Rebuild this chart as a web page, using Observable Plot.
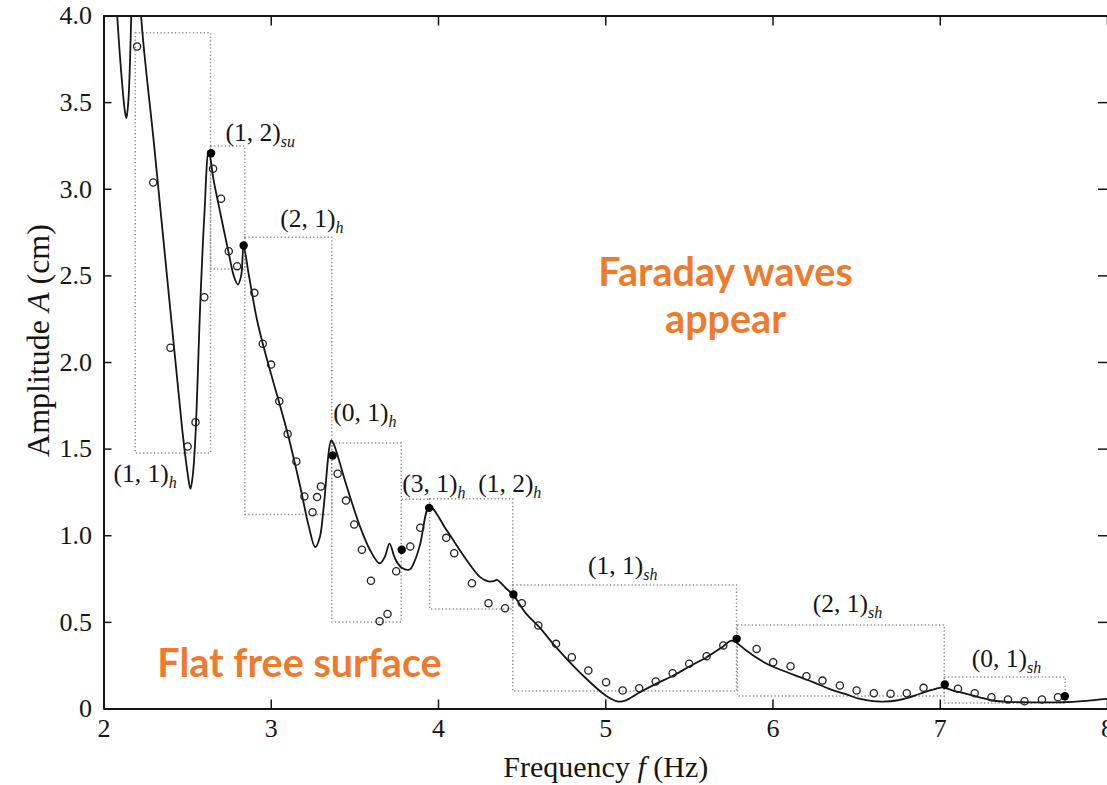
<!DOCTYPE html>
<html>
<head>
<meta charset="utf-8">
<script src="https://cdn.jsdelivr.net/npm/d3@7"></script>
<script src="https://cdn.jsdelivr.net/npm/@observablehq/plot@0.6"></script>
<style>
  html, body { margin: 0; padding: 0; background: #fff; }
  #chart { width: 1107px; height: 785px; }
</style>
</head>
<body>
<div id="chart"></div>
<script>
// ---------- data ----------
const xTicks = [2, 3, 4, 5, 6, 7, 8];
const xTickLabels = ["2", "3", "4", "5", "6", "7", "8"];
const yTicks = [0, 0.5, 1, 1.5, 2, 2.5, 3, 3.5, 4];
const yTickLabels = ["0", "0.5", "1.0", "1.5", "2.0", "2.5", "3.0", "3.5", "4.0"];

// theoretical response curve (frequency Hz, amplitude cm)
const curveF = [2.05, 2.079, 2.105, 2.125, 2.134, 2.145, 2.155, 2.163, 2.18, 2.205, 2.222, 2.30, 2.403, 2.467, 2.50, 2.517, 2.532, 2.547, 2.576, 2.60, 2.626,
  2.656, 2.696, 2.746, 2.776, 2.80, 2.82, 2.835, 2.865, 2.915, 2.949, 3.0, 3.098, 3.174, 3.223, 3.263, 3.29, 3.313, 3.359,
  3.373, 3.453, 3.532, 3.592, 3.648, 3.68, 3.707, 3.741, 3.78, 3.827, 3.86, 3.891, 3.947,
  4.05, 4.17, 4.249, 4.299, 4.33, 4.349, 4.40, 4.448, 4.52, 4.60, 4.70, 4.80, 4.90, 4.97, 5.03, 5.075, 5.12, 5.205,
  5.30, 5.404, 5.50, 5.603, 5.70, 5.753, 5.85, 5.962, 6.05, 6.161, 6.24, 6.34, 6.44, 6.52, 6.599, 6.66, 6.738, 6.81,
  6.878, 6.95, 6.997, 7.02, 7.08, 7.157, 7.24, 7.316, 7.40, 7.475, 7.60, 7.734, 7.85, 7.933, 8.0];
const curveA = [4.5, 4.0, 3.65, 3.45, 3.41, 3.5, 3.72, 4.0, 4.5, 4.5, 4.0, 3.25, 2.24, 1.62, 1.36, 1.27, 1.36, 1.58, 2.35, 2.85, 3.22,
  3.05, 2.86, 2.63, 2.50, 2.45, 2.50, 2.67, 2.51, 2.245, 2.11, 1.93, 1.59, 1.28, 1.06, 0.934, 0.99, 1.16, 1.55,
  1.53, 1.28, 1.05, 0.915, 0.84, 0.88, 0.955, 0.867, 0.815, 0.805, 0.86, 0.954, 1.167,
  1.03, 0.857, 0.761, 0.736, 0.738, 0.745, 0.70, 0.657, 0.555, 0.475, 0.36, 0.255, 0.16, 0.10, 0.06, 0.043, 0.05, 0.097,
  0.145, 0.193, 0.245, 0.299, 0.36, 0.395, 0.33, 0.261, 0.225, 0.184, 0.155, 0.115, 0.084, 0.058, 0.045, 0.043, 0.049, 0.066,
  0.088, 0.11, 0.122, 0.124, 0.105, 0.088, 0.066, 0.049, 0.041, 0.039, 0.038, 0.039, 0.045, 0.053, 0.059];

// measured amplitudes (open circles)
const expF = [2.198, 2.294, 2.397, 2.50, 2.547, 2.60, 2.652, 2.70, 2.746, 2.796, 2.899, 2.949, 2.999, 3.048, 3.098, 3.15, 3.198,
  3.247, 3.274, 3.297, 3.397, 3.447, 3.496, 3.542, 3.596, 3.648, 3.695, 3.747, 3.831, 3.891, 4.046, 4.094, 4.20, 4.299,
  4.398, 4.498, 4.597, 4.703, 4.797, 4.896, 5.002, 5.101, 5.20, 5.299, 5.40, 5.499, 5.603, 5.703, 5.902, 6.001, 6.105,
  6.20, 6.296, 6.40, 6.50, 6.603, 6.703, 6.80, 6.90, 7.106, 7.206, 7.306, 7.405, 7.504, 7.608, 7.704];
const expA = [3.824, 3.039, 2.085, 1.515, 1.655, 2.377, 3.118, 2.945, 2.642, 2.556, 2.402, 2.108, 1.988, 1.777, 1.588, 1.429, 1.227,
  1.136, 1.223, 1.284, 1.358, 1.203, 1.065, 0.919, 0.740, 0.507, 0.549, 0.795, 0.938, 1.046, 0.988, 0.899, 0.726, 0.611,
  0.582, 0.611, 0.482, 0.376, 0.299, 0.222, 0.155, 0.107, 0.120, 0.159, 0.207, 0.261, 0.305, 0.367, 0.347, 0.270, 0.247,
  0.189, 0.164, 0.136, 0.107, 0.091, 0.088, 0.091, 0.122, 0.117, 0.091, 0.068, 0.055, 0.045, 0.055, 0.068];

// mode thresholds (filled dots)
const thrF = [2.64, 2.835, 3.367, 3.78, 3.944, 4.448, 5.783, 7.027, 7.745];
const thrA = [3.208, 2.675, 1.463, 0.919, 1.161, 0.661, 0.405, 0.141, 0.074];

// dotted mode regions
const boxF1 = [2.19, 2.64, 2.845, 3.365, 3.95, 4.447, 5.79, 7.027];
const boxF2 = [2.64, 2.845, 3.365, 3.78, 4.447, 5.785, 7.027, 7.75];
const boxA1 = [1.475, 2.537, 1.12, 0.50, 0.575, 0.101, 0.072, 0.032];
const boxA2 = [3.90, 3.247, 2.72, 1.532, 1.21, 0.713, 0.482, 0.182];
// open dotted segment (top of the (3, 1)_h region)
const segF1 = [3.78];
const segF2 = [3.95];
const segA1 = [1.21];
const segA2 = [1.21];

// mode labels ("_" marks the italic subscript)
const modeNames = ["(1, 1)_h", "(1, 2)_su", "(2, 1)_h", "(0, 1)_h", "(3, 1)_h", "(1, 2)_h", "(1, 1)_sh", "(2, 1)_sh", "(0, 1)_sh"];
const modeF = [2.057, 2.726, 3.054, 3.371, 3.783, 4.237, 4.894, 6.238, 7.188];
const modeA = [1.359, 3.327, 2.831, 1.711, 1.302, 1.302, 0.828, 0.609, 0.291];

// regime annotations
const regimeNames = ["Faraday waves\nappear", "Flat free surface"];
const regimeF = [5.716, 3.169];
const regimeA = [2.392, 0.274];

const xLabel = "Frequency *f* (Hz)";
const yLabel = "Amplitude *A* (cm)";

// ---------- tables ----------
const curve = curveF.map((f, i) => ({f, a: curveA[i]}));
const exp = expF.map((f, i) => ({f, a: expA[i]}));
const thr = thrF.map((f, i) => ({f, a: thrA[i]}));
const boxes = boxF1.map((f1, i) => ({f1, f2: boxF2[i], a1: boxA1[i], a2: boxA2[i]}));
const segs = segF1.map((f1, i) => ({f1, f2: segF2[i], a1: segA1[i], a2: segA2[i]}));
const modes = modeNames.map((name, i) => ({name, f: modeF[i], a: modeA[i]}));
const regimes = regimeNames.map((name, i) => ({name, f: regimeF[i], a: regimeA[i]}));

// ---------- layout ----------
const W = 1107, H = 785;
const mL = 103.5, mR = 0, mT = 15.5, mB = 76.5;
const innerW = W - mL - mR, innerH = H - mT - mB;
const serif = "'Liberation Serif', 'Times New Roman', serif";
const ink = "#151515";
const dotted = {stroke: "#8c8c8c", strokeWidth: 1.5, strokeDasharray: "1.3,2.3"};

const svg = Plot.plot({
  width: W,
  height: H,
  marginLeft: mL,
  marginRight: mR,
  marginTop: mT,
  marginBottom: mB,
  style: {background: "#fff", fontFamily: serif, color: ink},
  x: {domain: [2, 8], axis: null},
  y: {domain: [0, 4], axis: null},
  marks: [
    // dotted regions
    Plot.rect(boxes, {x1: "f1", x2: "f2", y1: "a1", y2: "a2", fill: "none", ...dotted}),
    Plot.link(segs, {x1: "f1", x2: "f2", y1: "a1", y2: "a2", ...dotted}),
    // theory curve
    Plot.line(curve, {x: "f", y: "a", curve: "catmull-rom", stroke: ink, strokeWidth: 1.8, clip: true}),
    // experiments
    Plot.dot(exp, {x: "f", y: "a", r: 3.6, stroke: "#222", strokeWidth: 1.3, fill: "none"}),
    Plot.dot(thr, {x: "f", y: "a", r: 4.2, fill: "#000", stroke: "none"}),
    // mode labels
    Plot.text(modes, {x: "f", y: "a", text: "name", textAnchor: "start", lineAnchor: "middle",
      fontSize: 25.5, fill: ink, fontFamily: serif}),
    // regime annotations
    Plot.text(regimes, {x: "f", y: "a", text: "name", textAnchor: "middle", lineAnchor: "middle",
      lineHeight: 1.2, fontSize: 39.5, fontWeight: 700, fill: "#EE7A2C", fontFamily: "Lato, 'Open Sans', sans-serif"}),
    // frame (left, bottom, top)
    Plot.ruleX([2], {stroke: ink, strokeWidth: 2}),
    Plot.ruleY([0, 4], {stroke: ink, strokeWidth: 2}),
    // inward ticks
    Plot.ruleX(xTicks, {stroke: ink, strokeWidth: 1.5, insetTop: innerH - 9}),
    Plot.ruleX(xTicks, {stroke: ink, strokeWidth: 1.5, insetBottom: innerH - 10}),
    Plot.ruleY(yTicks, {stroke: ink, strokeWidth: 1.5, insetRight: innerW - 8}),
    Plot.ruleY(yTicks, {stroke: ink, strokeWidth: 1.5, insetLeft: innerW - 9}),
    // tick labels
    Plot.axisX({anchor: "bottom", ticks: xTicks, tickFormat: (d) => xTickLabels[xTicks.indexOf(d)],
      tickSize: 0, tickPadding: 10, fontSize: 26, label: null, fill: ink}),
    Plot.axisY({anchor: "left", ticks: yTicks, tickFormat: (d) => yTickLabels[yTicks.indexOf(d)],
      tickSize: 0, tickPadding: 12, fontSize: 26, label: null, fill: ink}),
    // axis titles
    Plot.text([xLabel], {frameAnchor: "bottom", dy: 58, textAnchor: "middle", lineAnchor: "middle",
      fontSize: 30, fill: ink, fontFamily: serif}),
    Plot.text([yLabel], {frameAnchor: "left", dx: -65, dy: -22, rotate: -90, textAnchor: "middle",
      lineAnchor: "middle", fontSize: 32, fill: ink, fontFamily: serif})
  ]
});

// rich text: "_xx" -> italic subscript, "*xx*" -> italic
d3.select(svg).selectAll("text").each(function () {
  const el = this;
  if (el.querySelector("tspan")) return;
  const t = el.textContent;
  if (!/[_*]/.test(t)) return;
  const fs = parseFloat(el.getAttribute("font-size") || getComputedStyle(el).fontSize) || 22;
  const parts = t.split(/(_[a-z]+|\*[^*]+\*)/).filter(s => s.length);
  el.textContent = "";
  let shifted = false;
  for (const p of parts) {
    const ts = document.createElementNS("http://www.w3.org/2000/svg", "tspan");
    if (p.startsWith("_")) {
      ts.textContent = p.slice(1);
      ts.setAttribute("font-style", "italic");
      ts.setAttribute("font-size", Math.round(fs * 0.74));
      ts.setAttribute("dy", fs * 0.28);
      shifted = true;
    } else if (p.startsWith("*")) {
      ts.textContent = p.slice(1, -1);
      ts.setAttribute("font-style", "italic");
      if (shifted) { ts.setAttribute("dy", -fs * 0.28); shifted = false; }
    } else {
      ts.textContent = p;
      if (shifted) { ts.setAttribute("dy", -fs * 0.28); shifted = false; }
    }
    el.appendChild(ts);
  }
});

document.getElementById("chart").appendChild(svg);
</script>
</body>
</html>
